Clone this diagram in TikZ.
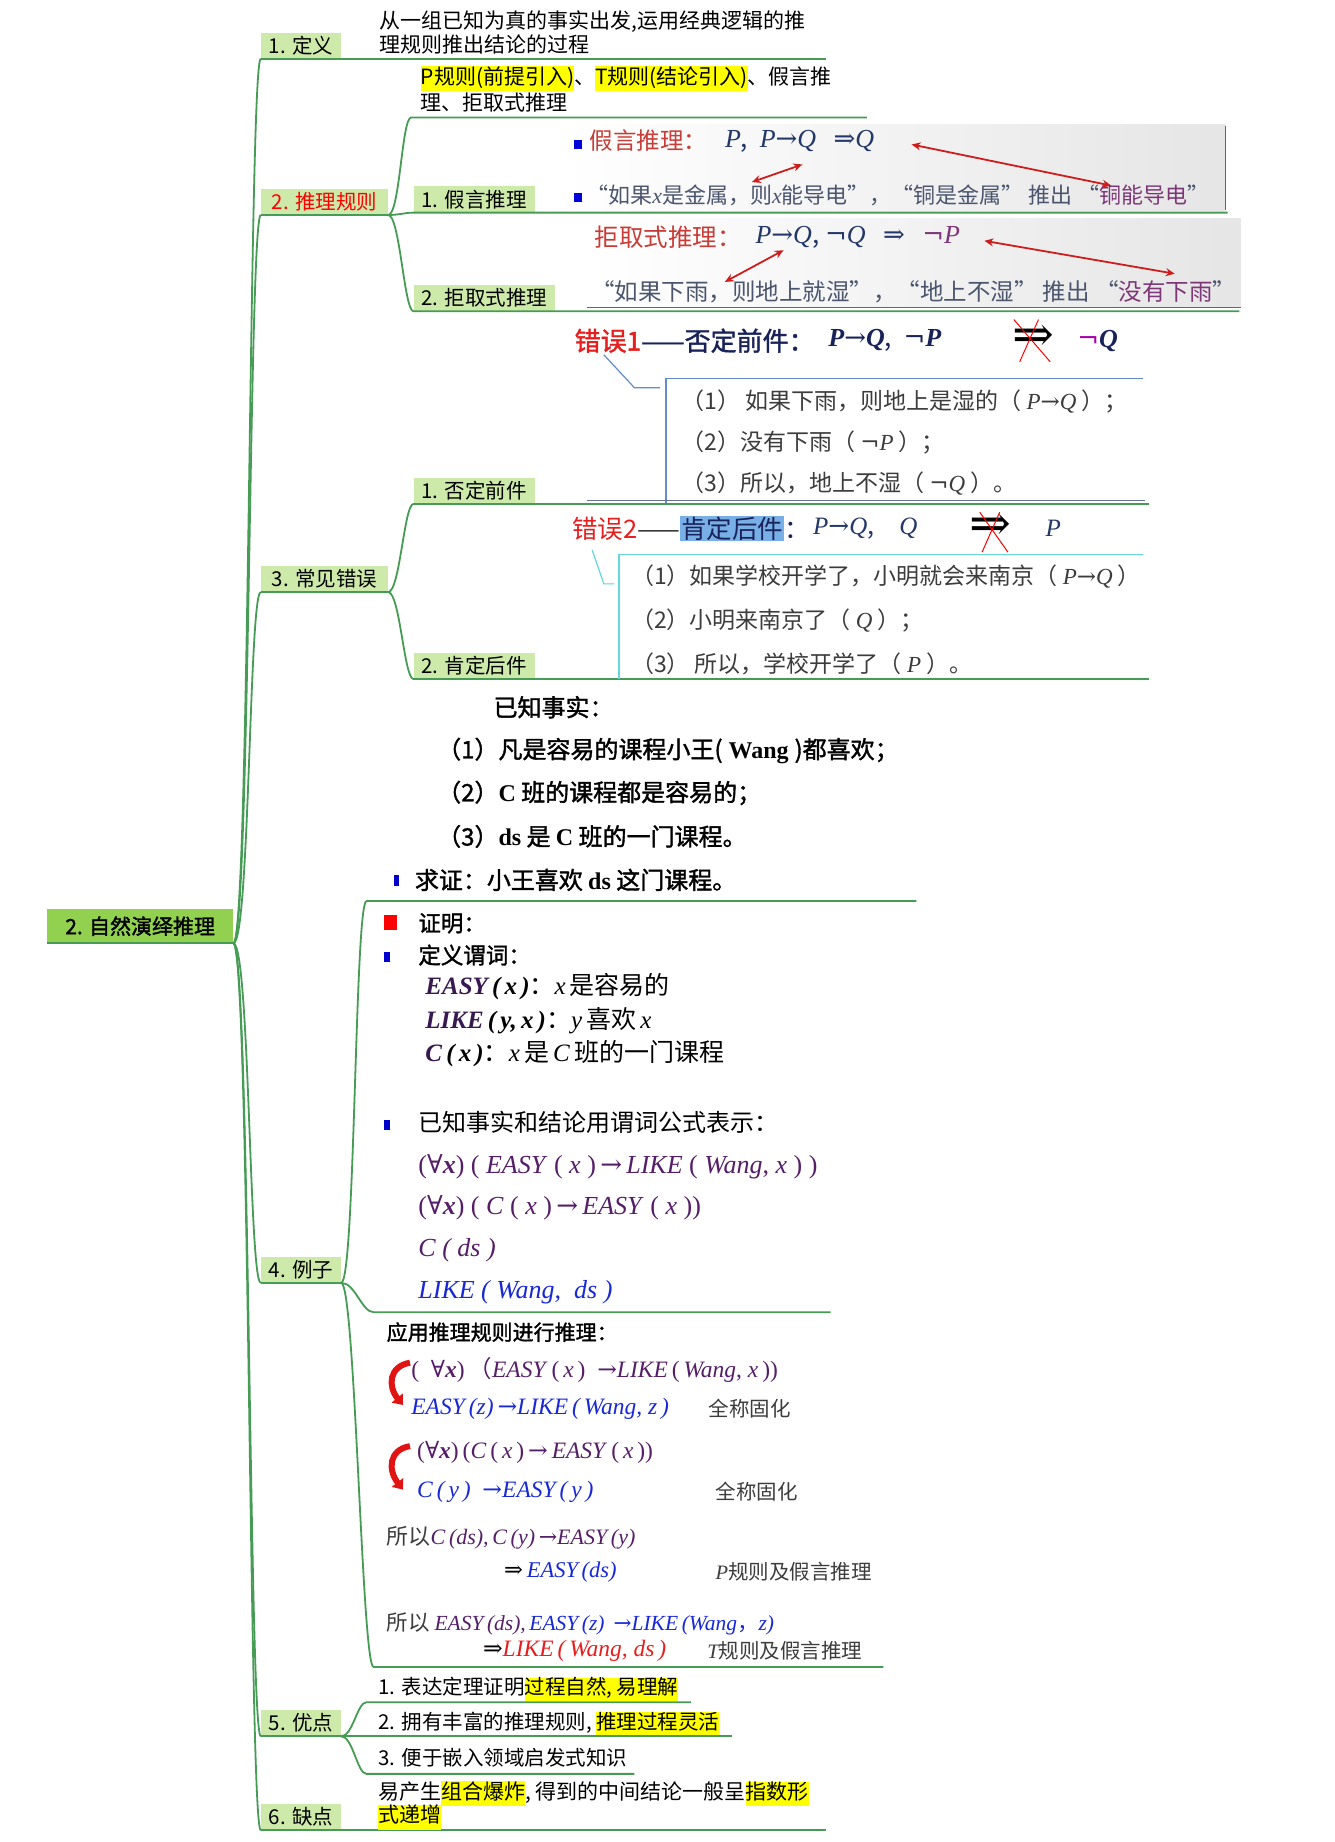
\documentclass[tikz,border=0pt]{standalone}
\usepackage{fontspec}
\setmainfont{Noto Sans CJK SC}[BoldFont={Noto Sans CJK SC},BoldFeatures={FakeBold=1.5}]
\newfontfamily\cjk{Noto Sans CJK SC}
\newfontfamily\tms{Liberation Serif}
\newfontfamily\djs{DejaVu Serif}
\usetikzlibrary{arrows.meta}
\definecolor{brgreen}{RGB}{70,155,85}
\definecolor{boxfill}{RGB}{205,234,170}
\definecolor{rootfill}{RGB}{146,208,80}
\definecolor{hlyellow}{RGB}{255,255,0}
\definecolor{hdred}{RGB}{200,60,55}
\definecolor{navy}{RGB}{35,55,105}
\definecolor{graytxt}{RGB}{75,85,110}
\definecolor{purp}{RGB}{125,55,120}
\definecolor{errred}{RGB}{230,30,30}
\definecolor{darkn}{RGB}{25,35,90}
\definecolor{mag}{RGB}{170,0,170}
\definecolor{fpurp}{RGB}{85,30,105}
\definecolor{dpurp}{RGB}{55,25,80}
\definecolor{fblue}{RGB}{25,40,215}
\definecolor{selblue}{RGB}{120,175,230}
\definecolor{callblue}{RGB}{100,140,200}
\definecolor{cyanc}{RGB}{100,215,220}
\definecolor{arrred}{RGB}{205,30,30}
\definecolor{curlred}{RGB}{225,20,20}
\definecolor{dtxt}{RGB}{60,60,60}
\newcommand\mi[1]{{\tms\itshape #1}}
\newcommand\mbi[1]{{\tms\bfseries\itshape #1}}
\newcommand\tb[1]{{\tms\bfseries #1}}
\newcommand\hly[1]{{\setlength{\fboxsep}{0pt}\colorbox{hlyellow}{\strut #1}}}
\newcommand\arr{{\djs →}}
\newcommand\Arr{{\djs ⇒}}
\newcommand\nég{{\djs ¬}}
\newcommand\fa{{\djs ∀}}
\begin{document}
\begin{tikzpicture}[x=1.175pt,y=-1.175pt,
 br/.style={draw=brgreen, line width=1.8pt},
 lbl/.style={anchor=south west, fill=boxfill, inner sep=0pt, minimum height=26pt, font=\fontsize{20.5}{22}\selectfont},
 rootbox/.style={anchor=south west, fill=rootfill, inner sep=0pt, minimum width=186pt, minimum height=34pt, font=\fontsize{21}{24}\selectfont\bfseries},
 T/.style={anchor=west, inner sep=0pt},
 fs/.style={font=\fontsize{#1}{#1}\selectfont},
 f21/.style={font=\fontsize{21}{23.5}\selectfont},
 rar/.style={draw=arrred, line width=1.8pt, {Stealth[length=9pt,width=8pt]}-{Stealth[length=9pt,width=8pt]}},
 curl/.style={draw=curlred, line width=6pt, -{Triangle[length=9pt,width=14pt]}},
 xline/.style={draw=red, line width=1pt},
 bigarr/.style={font=\fontsize{50}{50}\selectfont\djs, inner sep=0pt}
]
\fill[white] (0,0) rectangle (1136,1568);
\useasboundingbox (0,0) rectangle (1136,1568);

% ---------- root and level 1 ----------
\node[rootbox] (root) at (40,803) {2. 自然演绎推理};
\draw[br] (root.south west) -- (root.south east);

\node[lbl, minimum width=80pt] (n1) at (222,50) {1. 定义};
\node[lbl, minimum width=127pt, text=red] (n2) at (222,183) {2. 推理规则};
\node[lbl, minimum width=127pt] (n3) at (222,504) {3. 常见错误};
\node[lbl, minimum width=80pt] (n4) at (222,1092) {4. 例子};
\node[lbl, minimum width=80pt] (n5) at (222,1478) {5. 优点};
\node[lbl, minimum width=80pt] (n6) at (222,1558) {6. 缺点};

\foreach \n in {n1,n2,n3,n4,n5,n6}
  \draw[br] (root.south east) .. controls +(14,0) and +(-10,0) .. (\n.south west);

\coordinate (n1e) at (703,50);
\coordinate (n6e) at (703,1558);
\draw[br] (n1.south west) -- (n1e);
\draw[br] (n2.south west) -- (n2.south east);
\draw[br] (n3.south west) -- (n3.south east);
\draw[br] (n4.south west) -- (n4.south east);
\draw[br] (n5.south west) -- (n5.south east);
\draw[br] (n6.south west) -- (n6e);

% ---------- 1. definition ----------
\node[T,f21] (t1a) at (323,18) {从一组已知为真的事实出发,运用经典逻辑的推};
\node[T,f21] (t1b) at (323,38) {理规则推出结论的过程};

% ---------- 2. rules ----------
\coordinate (n20) at (350,100);
\coordinate (n20e) at (738,100);
\node[lbl, minimum width=121pt] (n21) at (352,181) {1. 假言推理};
\node[lbl, minimum width=141pt] (n22) at (352,265) {2. 拒取式推理};
\coordinate (n21e) at (1045,181);
\coordinate (n22e) at (1055,265);
\draw[br] (n2.south east) .. controls +(10,0) and +(-8,0) .. (n20) -- (n20e);
\draw[br] (n2.south east) .. controls +(10,0) and +(-8,0) .. (n21.south west) -- (n21e);
\draw[br] (n2.south east) .. controls +(10,0) and +(-8,0) .. (n22.south west) -- (n22e);

\node[T,f21] (t2a) at (358,67) {\hly{P规则(前提引入)}、\hly{T规则(结论引入)}、假言推};
\node[T,f21] (t2b) at (358,87) {理、拒取式推理};

% image 1
\shade[left color=white, right color=black!10] (480,106) rectangle (1043,179);
\draw[black!60, line width=0.8pt] (1043,107) -- (1043,179);
\fill[blue!85!black] (489,119) rectangle (495,127);
\fill[blue!85!black] (489,164) rectangle (495,172);
\node[T,fs=23.5,text=hdred] (h1) at (502,120) {假言推理：};
\node[T,fs=26,text=navy] (h1f) at (617,120) {\mi{P},\ \ \mi{P}\arr\mi{Q}\ \ \ \Arr\mi{Q}};
\node[T,fs=22,text=graytxt] (h1l) at (499,166) {“如果\mi{x}是金属，则\mi{x}能导电”，“铜是金属” 推出 “\textcolor{purp}{铜能导电}”};
\coordinate (a1s) at (683,140); \coordinate (a1e) at (640,155);
\coordinate (a2s) at (776,123); \coordinate (a2e) at (946,158);
\draw[rar] (a1s) -- (a1e);
\draw[rar] (a2s) -- (a2e);

% image 2
\shade[left color=white, right color=black!10] (500,186) rectangle (1056,262);
\draw[black!60, line width=0.6pt] (500,262) -- (1056,262);
\node[T,fs=24.5,text=hdred] (h2) at (506,202) {拒取式推理：};
\node[T,fs=26,text=navy] (h2f) at (643,202) {\mi{P}\arr\mi{Q},\ \nég\mi{Q}\ \ \ \Arr\ \ \ \textcolor{purp}{\nég\mi{P}}};
\node[T,fs=23.5,text=graytxt] (h2l) at (503,248) {“如果下雨，则地上就湿”，“地上不湿” 推出 “\textcolor{purp}{没有下雨}”};
\coordinate (b1s) at (667,213); \coordinate (b1e) at (617,240);
\coordinate (b2s) at (838,205); \coordinate (b2e) at (1000,233);
\draw[rar] (b1s) -- (b1e);
\draw[rar] (b2s) -- (b2e);

% ---------- 3. errors ----------
\node[lbl, minimum width=121pt] (n31) at (352,429) {1. 否定前件};
\node[lbl, minimum width=121pt] (n32) at (352,578) {2. 肯定后件};
\coordinate (n31e) at (978,429);
\coordinate (n32e) at (978,578);
\draw[br] (n3.south east) .. controls +(10,0) and +(-8,0) .. (n31.south west) -- (n31e);
\draw[br] (n3.south east) .. controls +(10,0) and +(-8,0) .. (n32.south west) -- (n32e);

% error 1
\node[T,fs=26] (e1) at (489,290) {\bfseries\textcolor{errred}{错误1}\textcolor{darkn}{——否定前件：}};
\node[T,fs=26,text=darkn] (e1f) at (705,290) {\mbi{P}\arr\mbi{Q},\ \ \nég\mbi{P}};
\node[bigarr] (e1n) at (880,288) {⇒};
\draw[xline] (863,272) -- (894,308);
\draw[xline] (884,272) -- (868,308);
\node[T,fs=26] (e1q) at (917,290) {\textcolor{mag}{\nég}\textcolor{darkn}{\mbi{Q}}};
\coordinate (c1a) at (514,302); \coordinate (c1b) at (540,330); \coordinate (c1c) at (562,330);
\draw[callblue, line width=1.2pt] (c1a) -- (c1b) -- (c1c);
\draw[callblue, line width=1.5pt] (567,428) -- (567,322) -- (973,322);
\draw[navy!70, line width=0.6pt] (500,426) -- (975,426);
\node[T,fs=23,text=dtxt] (e1a) at (580,342) {（1） 如果下雨，则地上是湿的（ \mi{P}\arr\mi{Q} ）；};
\node[T,fs=23,text=dtxt] (e1b) at (580,377) {（2）没有下雨（ \nég\mi{P} ）；};
\node[T,fs=23,text=dtxt] (e1c) at (580,412) {（3）所以，地上不湿（ \nég\mi{Q} ）。};

% error 2
\node[T,fs=25.5] (e2) at (487,450) {\textcolor{errred}{错误2}\textcolor{black!80}{——}{\setlength{\fboxsep}{1pt}\colorbox{selblue}{\textcolor{darkn}{肯定后件}}}\textcolor{darkn}{：}};
\node[T,fs=25,text=navy] (e2f) at (692,450) {\mi{P}\arr\mi{Q},\quad\mi{Q}};
\node[bigarr] (e2n) at (843,449) {⇒};
\draw[xline] (834,436) -- (858,470);
\draw[xline] (851,436) -- (836,470);
\node[T,fs=25,text=navy] (e2p) at (890,450) {\mi{P}};
\coordinate (c2a) at (504,468); \coordinate (c2b) at (514,497); \coordinate (c2c) at (523,497);
\draw[cyanc, line width=1.2pt] (c2a) -- (c2b) -- (c2c);
\draw[cyanc, line width=1.5pt] (527,578) -- (527,472) -- (973,472);
\node[T,fs=23,text=dtxt] (e2a) at (537,491) {（1）如果学校开学了，小明就会来南京（ \mi{P}\arr\mi{Q} ）};
\node[T,fs=23,text=dtxt] (e2b) at (537,528) {（2）小明来南京了（ \mi{Q} ）；};
\node[T,fs=23,text=dtxt] (e2c) at (537,565) {（3） 所以，学校开学了（ \mi{P} ）。};

% ---------- 4. example ----------
\coordinate (n41) at (312,767); \coordinate (n41e) at (780,767);
\coordinate (n42) at (318,1117); \coordinate (n42e) at (707,1117);
\coordinate (n43) at (318,1419); \coordinate (n43e) at (752,1419);
\draw[br] (n4.south east) .. controls +(12,0) and +(-10,0) .. (n41) -- (n41e);
\draw[br] (n4.south east) .. controls +(12,0) and +(-10,0) .. (n42) -- (n42e);
\draw[br] (n4.south east) .. controls +(12,0) and +(-10,0) .. (n43) -- (n43e);

% part a
\node[T,fs=24] (x1) at (420,602) {\bfseries 已知事实：};
\node[T,fs=24] (x2) at (372,639) {\bfseries （1）凡是容易的课程小王(\tb{ Wang })都喜欢；};
\node[T,fs=24] (x3) at (372,675) {\bfseries （2）\tb{C} 班的课程都是容易的；};
\node[T,fs=24] (x4) at (372,712) {\bfseries （3）\tb{ds} 是 \tb{C} 班的一门课程。};
\fill[blue!80!black] (335,745) rectangle (340,754);
\node[T,fs=24] (x5) at (353,749) {\bfseries 求证：小王喜欢 \tb{ds} 这门课程。};

% part b
\fill[red] (327,779) rectangle (338,792);
\node[T,fs=22.5] (y1) at (356,786) {\bfseries 证明：};
\fill[blue!80!black] (327,810) rectangle (332,819);
\node[T,fs=22.5] (y2) at (356,813) {\bfseries 定义谓词：};
\node[T,fs=25] (y3) at (362,840) {\textcolor{dpurp}{\mbi{EASY}}\,\mbi{(\,x\,)}：\mi{x}\,是容易的};
\node[T,fs=25] (y4) at (362,869) {\textcolor{dpurp}{\mbi{LIKE}}\,\mbi{(\,y,\,x\,)}：\mi{y}\,喜欢\,\mi{x}};
\node[T,fs=25] (y5) at (362,897) {\textcolor{dpurp}{\mbi{C}}\,\mbi{(\,x\,)}：\mi{x}\,是\,\mi{C}\,班的一门课程};
\fill[blue!80!black] (327,953) rectangle (332,962);
\node[T,fs=24] (y6) at (356,955) {已知事实和结论用谓词公式表示：};
\node[T,fs=26,text=fpurp] (y7) at (356,993) {{\tms(\fa\textbf{\textit{x}})\ (\ \textit{EASY}\ (\ \textit{x}\ )\,\arr\,\textit{LIKE}\ (\ \textit{Wang},\ \textit{x}\ )\ )}};
\node[T,fs=26,text=fpurp] (y8) at (356,1028) {{\tms(\fa\textbf{\textit{x}})\ (\ \textit{C}\ (\ \textit{x}\ )\,\arr\,\textit{EASY}\ (\ \textit{x}\ ))}};
\node[T,fs=26,text=fpurp] (y9) at (356,1064) {{\tms\itshape C\ (\ ds\ )}};
\node[T,fs=26,text=fblue] (y10) at (356,1100) {{\tms\itshape LIKE\ (\ Wang,\ \ ds\ )}};

% part c
\node[T,fs=21] (z0) at (329,1134) {\bfseries 应用推理规则进行推理：};
\coordinate (k1a) at (349,1160); \coordinate (k1b) at (343,1196);
\coordinate (k2a) at (349,1231); \coordinate (k2b) at (343,1268);
\draw[curl] (k1a) .. controls (331,1163) and (330,1180) .. (k1b);
\draw[curl] (k2a) .. controls (331,1234) and (330,1251) .. (k2b);
\node[T,fs=23.5,text=fpurp] (z1) at (350,1166) {{\tms(\ \ \fa\textbf{\textit{x}})\,{\cjk （}\textit{EASY}\,(\,\textit{x}\,)\ \ \arr\textit{LIKE}\,(\,\textit{Wang},\ \textit{x}\,))}};
\node[T,fs=23.5,text=fblue] (z2) at (350,1199) {{\tms\itshape EASY\,(z)\,\arr LIKE\,(\,Wang,\ z\,)}};
\node[T,fs=20.5,text=dtxt] (z3) at (603,1199) {全称固化};
\node[T,fs=23.5,text=fpurp] (z4) at (355,1236) {{\tms(\fa\textbf{\textit{x}})\,(\textit{C}\,(\,\textit{x}\,)\,\arr\,\textit{EASY}\,(\,\textit{x}\,))}};
\node[T,fs=23.5,text=fblue] (z5) at (355,1270) {{\tms\itshape C\,(\,y\,)\ \ \arr EASY\,(\,y\,)}};
\node[T,fs=20.5,text=dtxt] (z6) at (609,1270) {全称固化};
\node[T,fs=22] (z7) at (329,1309) {\textcolor{dtxt}{所以}\textcolor{fpurp}{\tms\itshape C\,(ds),\,C\,(y)\,\arr EASY\,(y)}};
\node[T,fs=22.5] (z8) at (429,1338) {\Arr\textcolor{fblue}{\tms\itshape \,EASY\,(ds)}};
\node[T,fs=20.5,text=dtxt] (z9) at (609,1338) {\mi{P}规则及假言推理};
\node[T,fs=21.5] (z10) at (329,1382) {\textcolor{dtxt}{所以}\ \textcolor{fpurp}{\tms\itshape EASY\,(ds),\,}\textcolor{fblue}{\tms\itshape EASY\,(z)\ \,\arr LIKE\,(Wang{\cjk\upshape ，}z)}};
\node[T,fs=23.5] (z11) at (411,1405) {\Arr\textcolor{errred}{\tms\itshape LIKE\,(\,Wang,\ ds\,)}};
\node[T,fs=20.5,text=dtxt] (z12) at (602,1405) {\mi{T}规则及假言推理};

% ---------- 5. advantages ----------
\coordinate (n51) at (312,1449); \coordinate (n51e) at (588,1449);
\coordinate (n52e) at (623,1478);
\coordinate (n53) at (312,1510); \coordinate (n53e) at (540,1510);
\draw[br] (n5.south east) .. controls +(10,0) and +(-8,0) .. (n51) -- (n51e);
\draw[br] (n5.south east) -- (n52e);
\draw[br] (n5.south east) .. controls +(10,0) and +(-8,0) .. (n53) -- (n53e);
\node[T,fs=20.5] (p1) at (322,1438) {1. 表达定理证明\hly{过程自然, 易理解}};
\node[T,fs=20.5] (p2) at (322,1467) {2. 拥有丰富的推理规则, \hly{推理过程灵活}};
\node[T,fs=20.5] (p3) at (322,1496) {3. 便于嵌入领域启发式知识};

% ---------- 6. disadvantages ----------
\node[T,f21] (q1) at (322,1527) {易产生\hly{组合爆炸}, 得到的中间结论一般呈\hly{指数形}};
\node[T,f21] (q2) at (322,1547) {\hly{式递增}};
\end{tikzpicture}
\end{document}
